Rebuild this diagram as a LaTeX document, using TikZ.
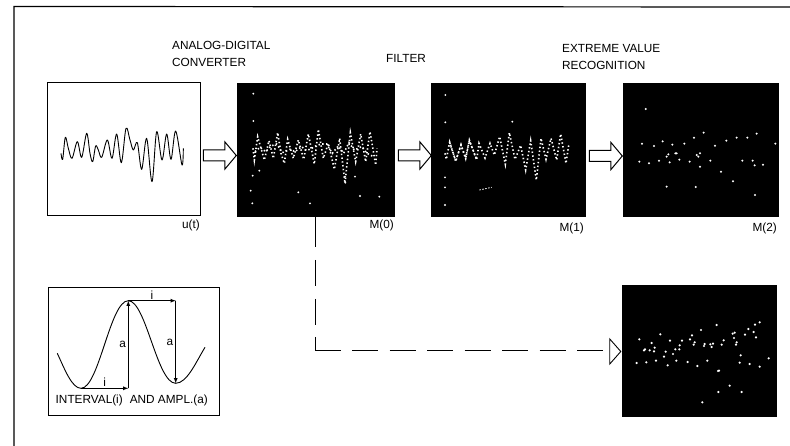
\documentclass[tikz,border=0pt]{standalone}
\usepackage{fontspec}
\setmainfont{Liberation Sans}
\usetikzlibrary{shapes.arrows,shapes.geometric}

\tikzset{
	panel/.style={draw,line width=1pt,minimum width=#1,minimum height=133pt,inner sep=0pt},
	screen/.style={panel=#1,fill=black},
	flowarrow/.style={draw,line width=1pt,single arrow,minimum height=33pt,inner xsep=0pt,inner ysep=5pt,
		single arrow head extend=8pt,single arrow tip angle=100},
	caption/.style={inner sep=0pt,align=left,font=\fontsize{11.8}{17.5}\selectfont},
	crop/.style={shift={#1},scale=1/3},
	dotted trace/.style={white,line width=1.6pt,dash pattern=on 1.4pt off 2.4pt}
}

\begin{document}
\begin{tikzpicture}[x=1pt,y=-1pt]
	\useasboundingbox (0,0) rectangle (790,446);
	% the sheet edge, only top and left are seen
	\draw[line width=1.2pt] (14,446) -- (14,6.5) -- (790,7);

	% headings
	\node[caption,anchor=north west] (adc) at (172,41) {ANALOG-DIGITAL\\CONVERTER};
	\node[caption,anchor=north west] (filter) at (386,54) {FILTER};
	\node[caption,anchor=north west] (extreme) at (562,44) {EXTREME VALUE\\RECOGNITION};

	% the four stages of the upper row
	\node[panel=153pt] (ut) at (123.5,149.5) {};
	\node[screen=157pt] (m0) at (315.5,150) {};
	\node[screen=154pt] (m1) at (508,150) {};
	\node[screen=155pt] (m2) at (700.5,150) {};
	\node[screen=154pt,minimum height=130pt] (m3) at (699,351) {};

	\node[flowarrow] (ad) at (217.5,155.5) {};
	\node[flowarrow] (fl) at (412.5,155.5) {};
	\node[flowarrow] (ex) at (603.5,156) {};

	\node[caption,anchor=north east] (utlabel) at (200,220) {u(t)};
	\node[caption,anchor=north east] (m0label) at (394,220) {M(0)};
	\node[caption,anchor=north east] (m1label) at (584,223) {M(1)};
	\node[caption,anchor=north east] (m2label) at (777,223) {M(2)};

	% the analog signal
	\begin{scope}[crop={(50,120)}]
		\draw[line width=0.9pt,line join=round] plot[smooth,tension=0.55] coordinates {
			(33,100) (38,118) (46,52) (55,85) (66,115) (82,65) (95,112) (110,40) (120,100) (128,125)
			(137,78) (145,90) (155,112) (172,60) (186,115) (200,42) (214,128) (228,25) (240,60) (250,90)
			(262,68) (275,148) (290,55) (306,185) (320,35) (336,120) (350,42) (363,118) (377,33) (396,135) (400,85)};
	\end{scope}

	% sampled signal, raw
	\begin{scope}[crop={(245,120)}]
		\draw[dotted trace] (24,85) -- (28,120) -- (38,50) -- (48,85) -- (58,120) -- (72,62) -- (85,115) -- (98,38)
			-- (108,100) -- (118,130) -- (128,58) -- (145,115) -- (160,60) -- (176,118) -- (190,42) -- (208,132)
			-- (220,28) -- (235,115) -- (250,70) -- (268,148) -- (284,55) -- (300,190) -- (316,38) -- (332,125)
			-- (347,42) -- (362,125) -- (375,35) -- (392,135) -- (396,85);
		\draw[dotted trace] (30,95) -- (45,82) -- (62,95) -- (78,78) -- (95,72) -- (112,98) -- (135,88) -- (150,95)
			-- (170,80) -- (185,92) -- (200,85) -- (212,78) -- (228,72) -- (245,72) -- (262,100) -- (280,78)
			-- (296,100) -- (312,68) -- (328,90) -- (350,80) -- (366,100) -- (385,110);
	\end{scope}
	\begin{scope}[crop={(0,60)}]
		\foreach \px/\py in {760/101,760/183,778/332,758/347,752/392,757/430,895/397,930/430,1080/408,1138/410,1065/350,1035/350,1036/368}
			\fill[white] (\px,\py) circle (3.2pt);
	\end{scope}

	% sampled signal, filtered
	\begin{scope}[crop={(435,120)}]
		\draw[dotted trace] (30,100) -- (34,118) -- (44,66) -- (62,124) -- (78,74) -- (92,116) -- (103,60) -- (125,120)
			-- (132,70) -- (150,114) -- (165,70) -- (178,105) -- (194,50) -- (211,133) -- (223,38) -- (240,118)
			-- (257,76) -- (272,150) -- (287,62) -- (304,180) -- (318,55) -- (333,118) -- (348,55) -- (365,120)
			-- (377,42) -- (393,130) -- (402,70);
		\draw[dotted trace] (44,68) -- (62,122) -- (78,76) -- (92,114) -- (103,62) -- (125,118);
	\end{scope}
	\begin{scope}[crop={(400,60)}]
		\foreach \px/\py in {136/105,136/187,135/352,135/382,135/435,337/185}
			\fill[white] (\px,\py) circle (3.2pt);
		\draw[white,line width=0.8pt,dash pattern=on 1.5pt off 1.5pt] (238,390) -- (275,382);
		% extreme values of M(2)
		\foreach \px/\py in {737/147,726/251,762/258,788/244,817/254,853/251,882/233,911/218,945/257,979/242,1010/233,
			1042/233,1070/221,1126/251,718/305,747/310,777/302,800/290,805/283,809/307,826/280,830/280,838/299,869/305,
			890/285,900/280,895/290,900/320,931/302,963/335,999/364,1027/302,1058/302,1064/316,1089/314,800/380,887/381,1065/405}
			\fill[white] (\px,\py) circle (3.4pt);
	\end{scope}

	% extreme values of the lower screen
	\begin{scope}[crop={(580,270)}]
		\foreach \px/\py in {178/208,215/219,241/193,270/212,306/212,336/196,330/208,363/180,410/165,431/211,458/191,464/188,
			462/204,495/194,505/177,521/186,525/164,539/157,528/202,192/241,195/238,209/241,224/233,222/244,257/245,286/238,
			298/238,299/226,344/217,341/224,374/222,372/228,391/223,399/221,395/231,425/224,468/224,470/217,482/256,170/279,
			199/277,228/272,252/260,279/252,289/272,323/276,352/288,382/272,263/286,479/278,509/282,539/290,566/265,414/303,
			417/302,449/347,415/366,485/366,367/397}
			\fill[white] (\px,\py) circle (3.6pt);
	\end{scope}

	% dashed branch to the lower screen
	\node[draw,line width=0.9pt,isosceles triangle,isosceles triangle stretches,minimum width=25pt,minimum height=11pt,inner sep=0pt] (tip) at (614.5,351.5) {};
	\coordinate (branch) at (m0.south -| 315,0);
	\coordinate (bend) at (315,351);
	\draw[line width=1pt,dash pattern=on 30pt off 13pt on 26pt off 13pt on 26pt off 12pt on 40pt off 11pt on 26pt off 11.5pt on 26pt off 11.5pt on 26pt off 11.5pt on 26pt off 11.5pt on 26pt off 11.5pt on 26pt off 11.5pt on 26pt off 11.5pt]
		(branch) -- (bend) -- (bend -| tip.west);

	% the inset, how interval and amplitude are read
	\node[panel=171pt,minimum height=127pt] (inset) at (133.5,351.5) {};
	\coordinate (low) at (81,388.3);
	\coordinate (peak) at (128.3,300.7);
	\coordinate (next) at (175.7,383.3);
	\coordinate (foot) at (128.3,388.3);
	\coordinate (over) at (175.7,300.7);
	\draw[line width=0.9pt] (57.3,353.3) .. controls (65,370) and (72,388.3) .. (low)
		.. controls (99,388.3) and (110,300.7) .. (peak)
		.. controls (146,300.7) and (157,383.3) .. (next)
		.. controls (187,383.3) and (196,362) .. (205,347.3);
	\draw[-latex,line width=0.8pt] (low) -- (foot) node[midway,above,inner sep=1pt,font=\fontsize{11.8}{13}\selectfont] (ilow) {i};
	\draw[-latex,line width=0.8pt] (foot) -- (peak) node[midway,left,inner sep=2pt,font=\fontsize{11.8}{13}\selectfont] (ahigh) {a};
	\draw[-latex,line width=0.8pt] (peak) -- (over) node[midway,above,inner sep=1pt,font=\fontsize{11.8}{13}\selectfont] (ihigh) {i};
	\draw[-latex,line width=0.8pt] (over) -- (next) node[midway,left,inner sep=2pt,font=\fontsize{11.8}{13}\selectfont] (adown) {a};
	\node[caption,anchor=north west] (insetlabel) at (55.5,395) {INTERVAL(i)\hspace{7pt}AND AMPL.(a)};
\end{tikzpicture}
\end{document}
